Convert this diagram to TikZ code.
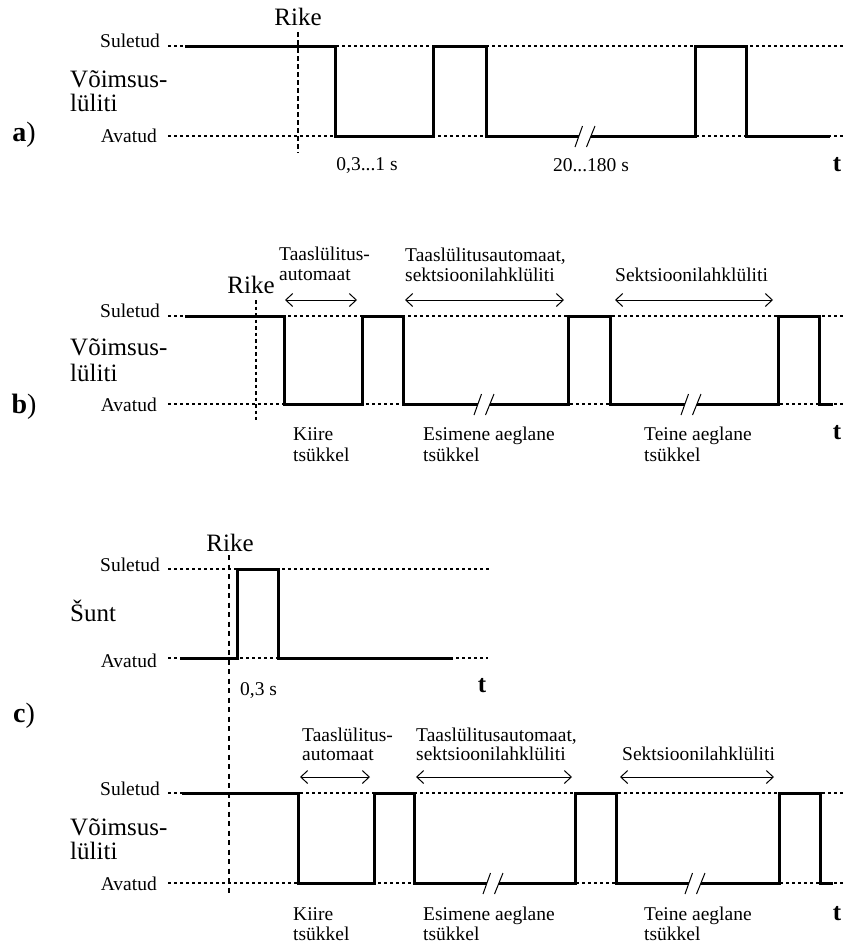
\documentclass[tikz,border=0pt]{standalone}
\usepackage{fontspec}
\setmainfont{Liberation Serif}
\usetikzlibrary{arrows.meta}
\newcommand\sz[1]{\fontsize{#1}{#1}\selectfont}
% break mark "//" on a level line, centred at (#1,#2)
\newcommand\brk[2]{%
  \fill[white] (#1-7.1,#2+3) -- (#1+4.7,#2+3) -- (#1+7.2,#2-3) -- (#1-5,#2-3) -- cycle;
  \draw[line width=1pt] (#1-10,#2+11) -- (#1-2.5,#2-10);
  \draw[line width=1pt] (#1+1.5,#2+11) -- (#1+10,#2-10);}
\begin{document}
\begin{tikzpicture}[x=1pt,y=-1pt,
  wave/.style={line width=3pt, line join=miter, black},
  guide/.style={line width=1.4pt, dash pattern=on 3pt off 3pt},
  rikeA/.style={line width=2pt, dash pattern=on 5pt off 3pt},
  rikeB/.style={line width=1.3pt, dash pattern=on 3.5pt off 3pt},
  rikeC/.style={line width=1.5pt, dash pattern=on 5pt off 4.5pt},
  lab/.style={font=\sz{19.5}, inner sep=0pt},
  big/.style={font=\sz{25}, inner sep=0pt},
  tax/.style={font=\sz{25}\bfseries, inner sep=0pt, anchor=base},
  pan/.style={font=\sz{28}, inner sep=0pt, anchor=base},
  span/.style={{Straight Barb[length=7pt,width=13pt]}-{Straight Barb[length=7pt,width=13pt]}, line width=1pt}]
\useasboundingbox (0,0) rectangle (845,943);

% ---------------- a) ----------------
\draw[guide] (168,46) -- (845,46);
\draw[guide] (168,136) -- (845,136);
\draw[rikeA] (298,32) -- (298,153);
\draw[wave] (185,46) -| (335,136) -| (433,46) -| (486,136) -| (695,46) -| (746,136) -- (830,136);
\brk{585}{136}
\node[big, anchor=base] (rikeA) at (298,25) {Rike};
\node[lab, anchor=base east] (sulA) at (160,47.5) {Suletud};
\node[lab, anchor=base east] (avaA) at (157,142.5) {Avatud};
\node[big, anchor=base west] (vA1) at (70,87.5) {Võimsus-};
\node[big, anchor=base west] (vA2) at (70,111.5) {lüliti};
\node[pan] (pA) at (24,141.5) {\textbf{a})};
\node[lab, anchor=base] (tA1) at (367,170) {0,3...1 s};
\node[lab, anchor=base] (tA2) at (591,171) {20...180 s};
\node[tax] (tA) at (837,171) {t};

% ---------------- b) ----------------
\draw[guide] (168,316) -- (845,316);
\draw[guide] (168,404) -- (845,404);
\draw[rikeB] (256,300) -- (256,420);
\draw[wave] (185,316) -| (284,404) -| (362,316) -| (403,404) -| (568,316) -| (610,404) -| (778,316) -| (819,404) -- (833,404);
\brk{484}{404}
\brk{691}{404}
\node[big, anchor=base] (rikeB) at (251,293) {Rike};
\node[lab, anchor=base east] (sulB) at (160,317) {Suletud};
\node[lab, anchor=base east] (avaB) at (157,411.5) {Avatud};
\node[big, anchor=base west] (vB1) at (70,355) {Võimsus-};
\node[big, anchor=base west] (vB2) at (70,381) {lüliti};
\node[pan] (pB) at (24,413) {\textbf{b})};
\coordinate (b1l) at (285,300); \coordinate (b1r) at (357,300);
\coordinate (b2l) at (405,300); \coordinate (b2r) at (564,300);
\coordinate (b3l) at (615,300); \coordinate (b3r) at (773,300);
\draw[span] (b1l) -- (b1r);
\draw[span] (b2l) -- (b2r);
\draw[span] (b3l) -- (b3r);
\node[lab, anchor=base west] (bl1a) at (279,260) {Taaslülitus-};
\node[lab, anchor=base west] (bl1b) at (279,280) {automaat};
\node[lab, anchor=base west] (bl2a) at (405,261) {Taaslülitusautomaat,};
\node[lab, anchor=base west] (bl2b) at (405,281) {sektsioonilahklüliti};
\node[lab, anchor=base west] (bl3) at (615,281) {Sektsioonilahklüliti};
\node[lab, anchor=base west] (bk1) at (293,440) {Kiire};
\node[lab, anchor=base west] (bk2) at (293,461) {tsükkel};
\node[lab, anchor=base west] (be1) at (423,440) {Esimene aeglane};
\node[lab, anchor=base west] (be2) at (423,461) {tsükkel};
\node[lab, anchor=base west] (bt1) at (644,440) {Teine aeglane};
\node[lab, anchor=base west] (bt2) at (644,461) {tsükkel};
\node[tax] (tB) at (837,439) {t};

% ---------------- c) ----------------
\draw[rikeC] (229,555) -- (229,895);
% shunt
\draw[guide] (168,569) -- (490,569);
\draw[guide] (168,658) -- (488,658);
\draw[wave] (180,658) -| (237,569) -| (278,658) -- (453,658);
\node[big, anchor=base] (rikeC) at (230,551) {Rike};
\node[lab, anchor=base east] (sulC) at (160,571.5) {Suletud};
\node[lab, anchor=base east] (avaC) at (157,667) {Avatud};
\node[big, anchor=base west] (sunt) at (70,621.5) {Šunt};
\node[lab, anchor=base west] (tC1) at (240,695) {0,3 s};
\node[tax] (tC) at (482,692) {t};
\node[pan] (pC) at (24,722.5) {\textbf{c})};
% circuit breaker
\draw[guide] (168,793) -- (845,793);
\draw[guide] (168,883) -- (845,883);
\draw[wave] (182,793) -| (298,883) -| (374,793) -| (414,883) -| (575,793) -| (616,883) -| (779,793) -| (820,883) -- (833,883);
\brk{493}{883}
\brk{695}{883}
\node[lab, anchor=base east] (sulD) at (160,795) {Suletud};
\node[lab, anchor=base east] (avaD) at (157,890) {Avatud};
\node[big, anchor=base west] (vD1) at (70,835) {Võimsus-};
\node[big, anchor=base west] (vD2) at (70,859) {lüliti};
\coordinate (c1l) at (300,777); \coordinate (c1r) at (370,777);
\coordinate (c2l) at (416,777); \coordinate (c2r) at (572,777);
\coordinate (c3l) at (620,777); \coordinate (c3r) at (774,777);
\draw[span] (c1l) -- (c1r);
\draw[span] (c2l) -- (c2r);
\draw[span] (c3l) -- (c3r);
\node[lab, anchor=base west] (cl1a) at (302,741) {Taaslülitus-};
\node[lab, anchor=base west] (cl1b) at (302,760) {automaat};
\node[lab, anchor=base west] (cl2a) at (416,741) {Taaslülitusautomaat,};
\node[lab, anchor=base west] (cl2b) at (416,760) {sektsioonilahklüliti};
\node[lab, anchor=base west] (cl3) at (622,760) {Sektsioonilahklüliti};
\node[lab, anchor=base west] (ck1) at (293,920) {Kiire};
\node[lab, anchor=base west] (ck2) at (293,940) {tsükkel};
\node[lab, anchor=base west] (ce1) at (423,920) {Esimene aeglane};
\node[lab, anchor=base west] (ce2) at (423,940) {tsükkel};
\node[lab, anchor=base west] (ct1) at (644,920) {Teine aeglane};
\node[lab, anchor=base west] (ct2) at (644,940) {tsükkel};
\node[tax] (tD) at (837,920) {t};
\end{tikzpicture}
\end{document}
